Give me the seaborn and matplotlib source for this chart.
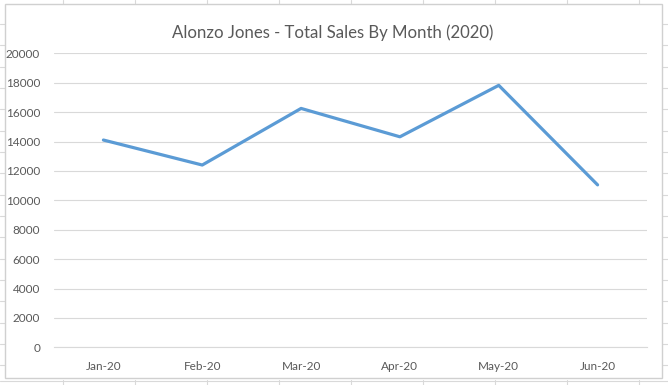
import matplotlib
matplotlib.use("Agg")
import matplotlib.pyplot as plt
from matplotlib.lines import Line2D
import seaborn as sns
import pandas as pd

months = ["Jan-20", "Feb-20", "Mar-20", "Apr-20", "May-20", "Jun-20"]
sales = [14100, 12400, 16250, 14320, 17820, 11050]
y_ticks = [0, 2000, 4000, 6000, 8000, 10000, 12000, 14000, 16000, 18000, 20000]
title = "Alonzo Jones - Total Sales By Month (2020)"

sns.set_theme(style="white")
plt.rcParams["font.family"] = ["Lato", "DejaVu Sans"]

W, H = 668, 385
fig = plt.figure(figsize=(W / 100, H / 100), dpi=100)
fig.patch.set_facecolor("white")

# spreadsheet grid behind the chart
grid_c = "#d9d9d9"
for x in [63, 135, 207, 279, 351, 423, 495, 567, 639]:
    fig.add_artist(Line2D([x / W, x / W], [1 - 4 / H, 1.0], color=grid_c, lw=0.8, zorder=-2))
    fig.add_artist(Line2D([x / W, x / W], [0, 1 - 380 / H], color=grid_c, lw=0.8, zorder=-2))
for y in [24, 45, 67, 88, 109, 131, 152, 173, 195, 216, 237, 259, 280, 301, 323, 344, 365]:
    fig.add_artist(Line2D([0, 5 / W], [1 - y / H, 1 - y / H], color=grid_c, lw=0.8, zorder=-2))
    fig.add_artist(Line2D([662 / W, 1], [1 - y / H, 1 - y / H], color=grid_c, lw=0.8, zorder=-2))
fig.add_artist(Line2D([0, 1], [1 - 381 / H, 1 - 381 / H], color=grid_c, lw=0.8, zorder=-2))

# chart border
fig.add_artist(plt.Rectangle((5 / W, 1 - 378 / H), (662 - 5) / W, (378 - 4) / H,
                             fill=True, facecolor="white", edgecolor="#d0d0d0", lw=1.0,
                             transform=fig.transFigure, zorder=-1))

ax = fig.add_axes([54 / W, (H - 347.3) / H, (647 - 54) / W, 294 / H])
ax.set_facecolor("none")

df = pd.DataFrame({"Month": months, "Sales": sales})
sns.lineplot(data=df, x="Month", y="Sales", ax=ax, sort=False, color="#5B9BD5",
             linewidth=2.3, solid_joinstyle="round", solid_capstyle="round", zorder=3)

ax.set_xlim(-0.5, len(months) - 0.5)
ax.set_ylim(0, 20000)
ax.set_yticks(y_ticks)
ax.set_yticklabels([str(v) for v in y_ticks])
ax.set_xticks(range(len(months)))
ax.set_xticklabels(months)
ax.set_xticks([i - 0.5 for i in range(len(months) + 1)], minor=True)
ax.tick_params(axis="x", which="major", length=0, pad=10, labelsize=8.5, labelcolor="#595959")
ax.tick_params(axis="x", which="minor", length=4, width=0.8, color=grid_c, direction="out")
ax.tick_params(axis="y", length=0, pad=10, labelsize=8.5, labelcolor="#595959")
ax.yaxis.grid(True, color=grid_c, lw=0.8)
ax.set_axisbelow(True)
for s in ["left", "top", "right"]:
    ax.spines[s].set_visible(False)
ax.spines["bottom"].set_color(grid_c)
ax.spines["bottom"].set_linewidth(0.8)
ax.set_xlabel("")
ax.set_ylabel("")

fig.text(333 / W, 1 - 33 / H, title, ha="center", va="center", fontsize=12.1,
         color="#595959", family=["Lato", "DejaVu Sans"])

fig.savefig("out.png", dpi=100)
